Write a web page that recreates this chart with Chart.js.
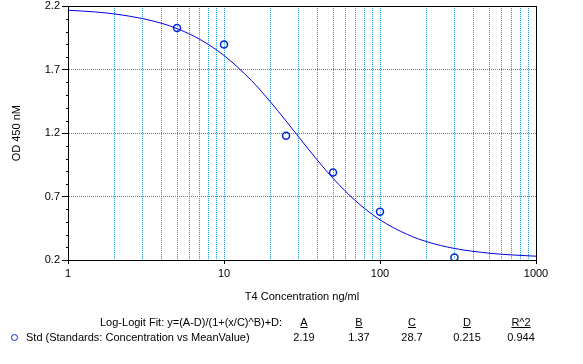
<!DOCTYPE html>
<html>
<head>
<meta charset="utf-8">
<script src="https://cdn.jsdelivr.net/npm/chart.js@4/dist/chart.umd.min.js"></script>
<style>
  body { margin: 0; background: #fff; }
  #wrap { position: relative; width: 583px; height: 364px; font: 11px "Liberation Sans", Arial, sans-serif; color: #000; }
  #wrap canvas { position: absolute; left: 0; top: 0; }
  .txt { position: absolute; white-space: nowrap; line-height: 13px; }
  .col { position: absolute; width: 60px; margin-left: -30px; text-align: center; line-height: 13px; }
  .hd { text-decoration: underline; }
  .mark { position: absolute; left: 11px; top: 334px; width: 5px; height: 5px; border: 1.5px solid #0028d0; border-radius: 50%; }
</style>
</head>
<body>
<div id="wrap">
  <canvas id="chart" width="583" height="364"></canvas>
  <div class="txt" style="left:100px; top:316px;">Log-Logit Fit: y=(A-D)/(1+(x/C)^B)+D:</div>
  <div class="mark"></div>
  <div class="txt" style="left:26px; top:331px;">Std (Standards: Concentration vs MeanValue)</div>
  <div id="fit"></div>
</div>
<script>
// Standards (points)
const concentrations = [5, 10, 25, 50, 100, 300];
const meanOD = [2.03, 1.90, 1.18, 0.89, 0.58, 0.22];

// Fitted curve
const curveX = [1, 1.5, 2, 3, 4, 5, 7, 10, 15, 20, 25, 30, 40, 50, 70, 100, 150, 200, 300, 500, 700, 1000];
const curveY = [2.170, 2.156, 2.140, 2.104, 2.066, 2.025, 1.940, 1.813, 1.615, 1.442, 1.296, 1.173, 0.982, 0.844, 0.665, 0.517, 0.401, 0.344, 0.291, 0.254, 0.240, 0.230];

// Axes
const yTicks = [0.2, 0.7, 1.2, 1.7, 2.2];
const xDecades = [1, 10, 100, 1000];

// Fit table
const fitNames = ['A', 'B', 'C', 'D', 'R^2'];
const fitValues = ['2.19', '1.37', '28.7', '0.215', '0.944'];
const fitCols = [304, 359, 412, 467, 521];

const GRID = '#0aa0e0';

// x grid positions : 1..9, 10..90, 100..900, 1000
const xGrid = [];
for (let d = 1; d < 1000; d *= 10) {
  for (let k = 1; k < 10; k++) xGrid.push(k * d);
}
xGrid.push(1000);

// fit table
const fit = document.getElementById('fit');
fitNames.forEach((n, i) => {
  const h = document.createElement('div');
  h.className = 'col hd';
  h.style.left = fitCols[i] + 'px';
  h.style.top = '316px';
  h.textContent = n;
  fit.appendChild(h);
  const v = document.createElement('div');
  v.className = 'col';
  v.style.left = fitCols[i] + 'px';
  v.style.top = '331px';
  v.textContent = fitValues[i];
  fit.appendChild(v);
});

const framePlugin = {
  id: 'frame',
  afterDraw(chart) {
    const ctx = chart.ctx;
    const a = chart.chartArea;
    const y = chart.scales.y;
    ctx.save();
    ctx.strokeStyle = '#000';
    ctx.lineWidth = 1;
    ctx.beginPath();
    ctx.moveTo(Math.round(a.left), Math.round(a.top) + 0.5);
    ctx.lineTo(Math.round(a.right) + 1, Math.round(a.top) + 0.5);
    ctx.moveTo(Math.round(a.right) + 0.5, Math.round(a.top));
    ctx.lineTo(Math.round(a.right) + 0.5, Math.round(a.bottom) + 1);
    // minor ticks on the y axis
    for (let i = 1; i < 20; i++) {
      const v = 0.2 + i * 0.1;
      if (i % 5 === 0) continue;
      const py = Math.round(y.getPixelForValue(v)) + 0.5;
      ctx.moveTo(Math.round(a.left) - 2, py);
      ctx.lineTo(Math.round(a.left), py);
    }
    ctx.stroke();
    ctx.restore();
  }
};

new Chart(document.getElementById('chart'), {
  type: 'line',
  data: {
    datasets: [{
      label: 'Std',
      data: concentrations.map((c, i) => ({ x: c, y: meanOD[i] })),
      showLine: false,
      pointRadius: 3.5,
      pointBorderWidth: 1.5,
      pointBorderColor: '#0028d0',
      pointBackgroundColor: 'rgba(0,0,0,0)',
      order: 0
    }, {
      label: 'Fit',
      data: curveX.map((c, i) => ({ x: c, y: curveY[i] })),
      borderColor: '#0000e0',
      borderWidth: 1,
      pointRadius: 0,
      cubicInterpolationMode: 'monotone',
      fill: false,
      order: 1
    }]
  },
  options: {
    responsive: false,
    animation: false,
    layout: { padding: { top: 5, right: 47, left: 0, bottom: 0 } },
    plugins: {
      legend: { display: false },
      tooltip: { enabled: false }
    },
    scales: {
      x: {
        type: 'logarithmic',
        min: 1,
        max: 1000,
        afterBuildTicks: scale => { scale.ticks = xGrid.map(v => ({ value: v })); },
        afterFit: scale => { scale.height = 104; },
        ticks: {
          autoSkip: false,
          maxRotation: 0,
          padding: 3,
          color: '#000',
          font: { family: 'Liberation Sans', size: 11 },
          callback: v => xDecades.includes(v) ? String(v) : ''
        },
        grid: {
          color: c => (c.tick && (c.tick.value === 1 || c.tick.value === 1000)) ? 'rgba(0,0,0,0)' : GRID,
          tickColor: c => (c.tick && xDecades.includes(c.tick.value)) ? '#000' : 'rgba(0,0,0,0)',
          tickLength: 4
        },
        border: { color: '#000', dash: [1, 1], dashOffset: 0.5 },
        title: {
          display: true,
          text: 'T4 Concentration ng/ml',
          color: '#000',
          font: { family: 'Liberation Sans', size: 11 },
          padding: { top: 0, bottom: 60 }
        }
      },
      y: {
        min: 0.2,
        max: 2.2,
        afterBuildTicks: scale => { scale.ticks = yTicks.map(v => ({ value: v })); },
        afterFit: scale => { scale.width = 68; },
        ticks: {
          padding: 2,
          color: '#000',
          font: { family: 'Liberation Sans', size: 11, lineHeight: 0.8 },
          callback: v => v.toFixed(1)
        },
        grid: {
          color: c => (c.tick && (c.tick.value === 0.2 || c.tick.value === 2.2)) ? 'rgba(0,0,0,0)' : GRID,
          tickColor: '#000',
          tickLength: 6
        },
        border: { color: '#000', dash: [1, 1] },
        title: {
          display: true,
          text: 'OD 450 nM',
          color: '#000',
          font: { family: 'Liberation Sans', size: 11 },
          padding: { top: 10, bottom: 0 }
        }
      }
    }
  },
  plugins: [framePlugin]
});
</script>
</body>
</html>
